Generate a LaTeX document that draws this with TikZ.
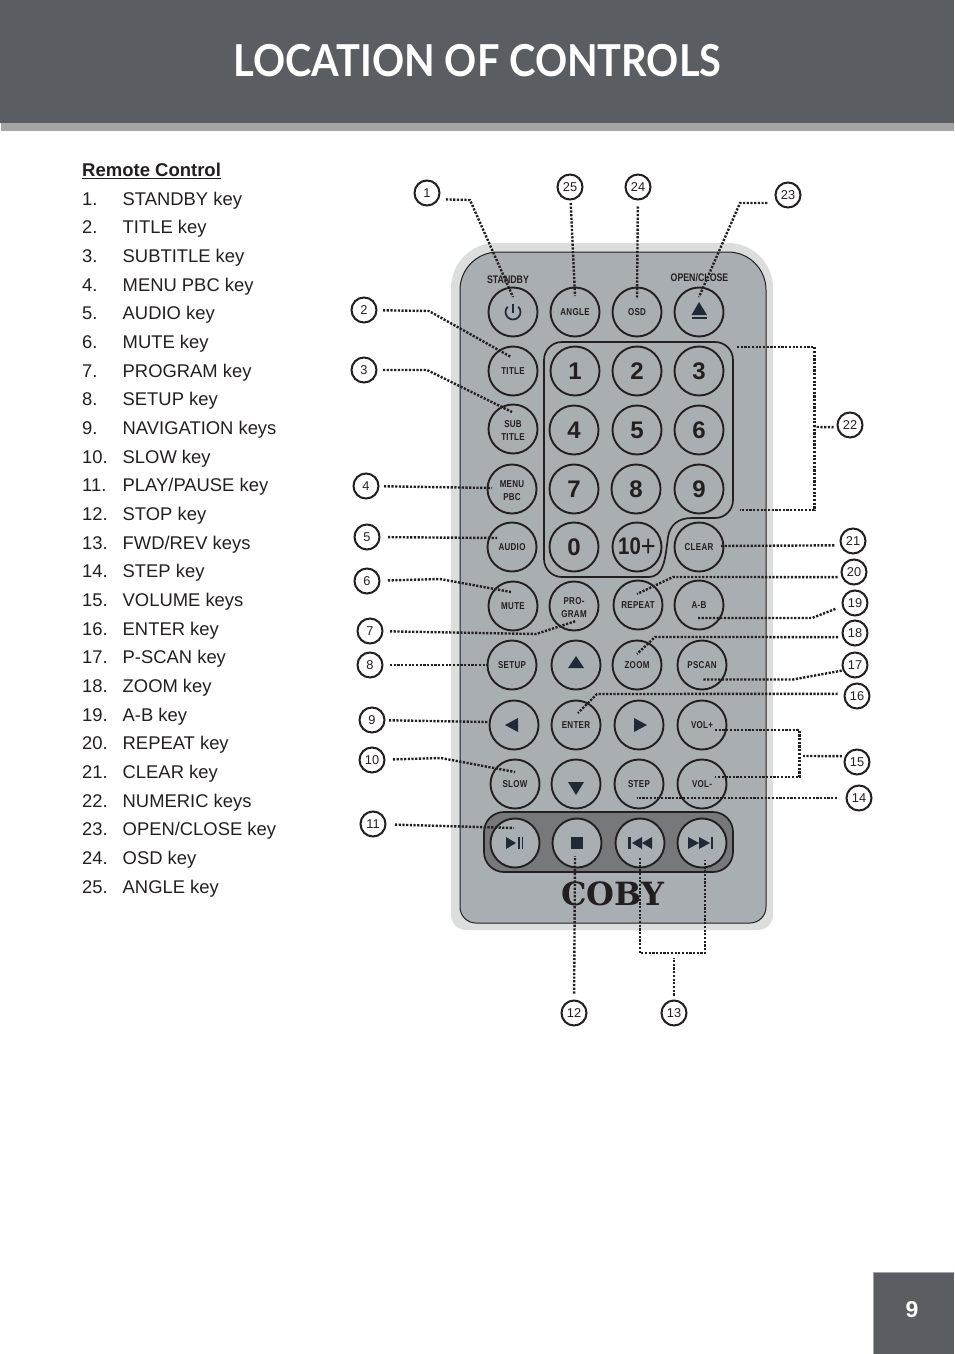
\documentclass[tikz,border=0pt]{standalone}
\usepackage{fontspec}
\usepackage{xcolor}
\setmainfont{Liberation Sans}
\newfontfamily\titlefont[FakeStretch=0.905]{Lato}
\newfontfamily\keyfont[FakeStretch=0.8,LetterSpace=3]{Liberation Sans}
\newfontfamily\labelfont[FakeStretch=0.8]{Liberation Sans}
\newfontfamily\tenfont[FakeStretch=0.85]{Liberation Sans}
\newfontfamily\logofont{DejaVu Serif}
\newcommand{\lowtext}{\rule{0pt}{10.5pt}}
\definecolor{headgray}{HTML}{5A5D62}
\definecolor{bandgray}{HTML}{A6A5A6}
\definecolor{casegray}{HTML}{DCDDDD}
\definecolor{bodygray}{HTML}{A9AEB2}
\definecolor{stripgray}{HTML}{76787B}
\definecolor{inkblack}{HTML}{231F20}
\definecolor{iconblue}{HTML}{1F2A36}
\begin{document}
\begin{tikzpicture}[x=1pt,y=-1pt,
    button/.style={circle,draw=inkblack,fill=bodygray,line width=1.9pt,minimum size=49pt,
      inner sep=0pt,outer sep=0pt,align=center,text=inkblack,font=\keyfont\bfseries\fontsize{10}{13}\selectfont},
    digit/.style={font=\bfseries\fontsize{24}{24}\selectfont},
    callout/.style={circle,draw=inkblack,fill=white,line width=2pt,minimum size=25pt,
      inner sep=0pt,outer sep=0pt,text=inkblack,font=\fontsize{12.8}{13}\selectfont},
    leader/.style={draw=inkblack,line width=2.4pt,dash pattern=on 2.2pt off 1.5pt},
    listitem/.style={anchor=base west,inner sep=0pt,text=inkblack,font=\fontsize{18.4}{20}\selectfont},
    toplabel/.style={inner sep=0pt,text=inkblack,font=\labelfont\bfseries\fontsize{11}{12}\selectfont},
    icon/.style={fill=iconblue}]
  \useasboundingbox (0,0) rectangle (954,1354);
  % page furniture
  \fill[bandgray] (1,123) rectangle (954,131);
  \fill[headgray] (0,0) rectangle (954,123);
  \node[text=white,inner sep=0pt,anchor=base,font=\titlefont\bfseries\fontsize{44}{46}\selectfont] (title) at (477.5,77) {LOCATION OF CONTROLS};
  \fill[bandgray] (872.5,1271.5) rectangle (954,1354);
  \fill[headgray] (874,1273) rectangle (954,1354);
  \node[text=white,font=\bfseries\fontsize{23}{24}\selectfont] (page) at (912,1310) {9};
  % list of keys
  \node[listitem,font=\bfseries\fontsize{18.5}{20}\selectfont] (head) at (82,176.5) {\underline{Remote Control}};
  \foreach \t [count=\i] in {STANDBY key,TITLE key,SUBTITLE key,MENU PBC key,AUDIO key,MUTE key,
      PROGRAM key,SETUP key,NAVIGATION keys,SLOW key,PLAY/PAUSE key,STOP key,FWD/REV keys,STEP key,
      VOLUME keys,ENTER key,P-SCAN key,ZOOM key,A-B key,REPEAT key,CLEAR key,NUMERIC keys,
      OPEN/CLOSE key,OSD key,ANGLE key}{
    \node[listitem] (num\i) at (82,205+\i*28.67-28.67) {\i.};
    \node[listitem] (item\i) at (122.5,205+\i*28.67-28.67) {\t};
  }
  % remote body
  \fill[casegray] (451,600) [rounded corners=45pt] -- (451,243) -- (773,243) -- (773,600)
    [rounded corners=15pt] -- (773,930) -- (451,930) -- cycle;
  \draw[inkblack,fill=bodygray,line width=1pt] (460,600) [rounded corners=38pt] -- (460,252) -- (766,252) -- (766,600)
    [rounded corners=16pt] -- (766,923) -- (460,923) -- cycle;
  \draw[inkblack,line width=1.7pt] (544,360) .. controls (544,350) and (552,342) .. (562,342) -- (715,342)
    .. controls (725,342) and (733,350) .. (733,360) -- (733,500) .. controls (733,510) and (725,518) .. (715,518)
    -- (692,518) .. controls (678,518) and (670,525) .. (668,537) .. controls (665,560) and (664,577) .. (648,577)
    -- (562,577) .. controls (552,577) and (544,569) .. (544,559) -- cycle;
  \draw[inkblack,fill=stripgray,line width=1.7pt,rounded corners=20pt] (484,812) rectangle (733,872);
  \node[toplabel] (standbytxt) at (508,280) {STANDBY};
  \node[toplabel] (opentxt) at (699.5,278) {OPEN/CLOSE};
  \node[inkblack,font=\logofont\bfseries\fontsize{32}{32}\selectfont,inner sep=0pt] (logo) at (612.5,894) {COBY};
  % keys
  \foreach \nm/\x/\y/\t in {kstandby/513/312/{},kangle/575/312/ANGLE,kosd/637/312/OSD,keject/699/312/{},
      ktitle/513/371/TITLE,ksub/513/429/{\lowtext SUB\\TITLE},kmenu/512/489/{\lowtext MENU\\PBC},kaudio/512/547/AUDIO,
      kclear/699/547/CLEAR,kmute/513/606/MUTE,kprog/574/606/{\lowtext PRO-\\GRAM},krepeat/638/605/REPEAT,kab/699/605/A-B,
      ksetup/512/665/SETUP,kup/576/665/{},kzoom/637/665/ZOOM,kpscan/702/665/PSCAN,
      kleft/514/725/{},kenter/576/725/ENTER,kright/639/725/{},kvolup/702/725/VOL+,
      kslow/515/784/SLOW,kdown/576/784/{},kstep/639/784/STEP,kvoldn/702/784/VOL-,
      kplay/515/843/{},kstop/577/843/{},kprev/640/843/{},knext/702/843/{}}
    \node[button] (\nm) at (\x,\y) {\t};
  \foreach \t/\x/\y in {1/575/371,2/637/371,3/699/371,4/574/430,5/637/430,6/699/430,
      7/574/489,8/636/489,9/699/489,0/574/547}
    \node[button,digit] (d\t) at (\x,\y) {\t};
  \node[button] (dten) at (637,547) {\tenfont\bfseries\fontsize{24}{24}\selectfont 10\mdseries\fontsize{30}{24}\selectfont\raisebox{-2.5pt}{+}};
  % key symbols
  \draw[iconblue,line width=1.7pt] (518.3,306.7) arc[start angle=-45,end angle=225,radius=7.5];
  \draw[iconblue,line width=1.7pt] (513,303.5) -- (513,313);
  \fill[icon] (699,302) -- (707,315) -- (691.5,315) -- cycle;
  \fill[icon] (692,317.2) rectangle (707,318.8);
  \fill[icon] (576,656) -- (584,668) -- (568,668) -- cycle;
  \fill[icon] (568,782) -- (584,782) -- (576,795) -- cycle;
  \fill[icon] (505,725) -- (518,718) -- (518,732) -- cycle;
  \fill[icon] (647,725) -- (634,718) -- (634,732) -- cycle;
  \fill[icon] (506,837) -- (516,843) -- (506,849) -- cycle;
  \fill[icon] (518,837) rectangle (519.5,849);
  \fill[icon] (521.5,837) rectangle (523,849);
  \fill[icon] (571,837) rectangle (583,849);
  \fill[icon] (628,837) rectangle (631,849);
  \fill[icon] (632,843) -- (642,837) -- (642,849) -- cycle;
  \fill[icon] (642,843) -- (652,837) -- (652,849) -- cycle;
  \fill[icon] (699,843) -- (688,837) -- (688,849) -- cycle;
  \fill[icon] (710,843) -- (699,837) -- (699,849) -- cycle;
  \fill[icon] (710.5,837) rectangle (713,849);
  % numbered callouts
  \foreach \i/\x/\y in {1/427/193,2/364/310,3/364/370,4/366/486,5/367/537,6/367/581,7/370/631,8/370/665,
      9/372/720,10/372/760,11/373/824,12/574/1013,13/674/1013,14/859/798,15/857/762,16/857/696,
      17/855/665,18/855/633,19/855/603,20/854/572,21/853/541,22/850/425,23/788/195,24/638/187,25/570/187}
    \node[callout] (n\i) at (\x,\y) {\i};
  % leader points
  \foreach \nm/\x/\y in {b1/470/200,t1/513/297,b2/429/311,t2/511/357,b3/427/370,t3/512/412,t4/492/488,
      t5/497/538,b6/440/579,t6/511/592,b7/536/634,t7/576/621,t8/488/665,t9/488/722,b10/441/758,t10/515/772,
      t11/514/828,t12/575/856,c13/674/958,p13a/640/858,p13b/640/953,p13c/705/953,p13d/705/860,
      t14/637/798,c15/803/756,p15a/715/730,p15b/799.5/730,p15c/799.5/777,p15d/715/777,
      b16/597/694,t16/578/713,b17/793/679.5,t17/703/679.5,b18/655/637,t18/637/654,b19/812/618,t19/698/618,
      b20/673/577,t20/637/594,t21/720/546,c22/814.5/427,p22a/737/347,p22b/814.5/347,p22c/814.5/510,p22d/740/510,
      b23/740/203,t23/699/297,t24/637/299,t25/575/296}
    \coordinate (\nm) at (\x,\y);
  % leaders
  \draw[leader,shorten <=8pt] (n1.-30) -- (b1) -- (t1);
  \draw[leader,shorten <=6.5pt] (n2) -- (b2) -- (t2);
  \draw[leader,shorten <=6.5pt] (n3) -- (b3) -- (t3);
  \draw[leader,shorten <=5.5pt] (n4) -- (t4);
  \draw[leader,shorten <=8.5pt] (n5) -- (t5);
  \draw[leader,shorten <=8.5pt] (n6) -- (b6) -- (t6);
  \draw[leader,shorten <=7.5pt] (n7) -- (b7) -- (t7);
  \draw[leader,shorten <=7.5pt] (n8) -- (t8);
  \draw[leader,shorten <=4.5pt] (n9) -- (t9);
  \draw[leader,shorten <=8.5pt] (n10) -- (b10) -- (t10);
  \draw[leader,shorten <=9.5pt] (n11) -- (t11);
  \draw[leader,shorten <=7pt] (n12) -- (t12);
  \draw[leader,shorten <=5pt] (n13) -- (c13);
  \draw[leader] (p13a) -- (p13b) -- (p13c) -- (p13d);
  \draw[leader,shorten <=9.5pt] (n14) -- (t14);
  \draw[leader,shorten <=4pt] (n15.152) -- (c15);
  \draw[leader] (p15a) -- (p15b) -- (p15c) -- (p15d);
  \draw[leader,shorten <=7pt] (n16.170) -- (b16) -- (t16);
  \draw[leader,shorten <=2pt] (n17.205) -- (b17) -- (t17);
  \draw[leader,shorten <=5pt] (n18.199) -- (b18) -- (t18);
  \draw[leader,shorten <=8pt] (n19.194) -- (b19) -- (t19);
  \draw[leader,shorten <=5pt] (n20.204) -- (b20) -- (t20);
  \draw[leader,shorten <=7pt] (n21.200) -- (t21);
  \draw[leader,shorten <=4pt] (n22.190) -- (c22);
  \draw[leader] (p22a) -- (p22b) -- (p22c) -- (p22d);
  \draw[leader,shorten <=11pt] (n23.220) -- (b23) -- (t23);
  \draw[leader,shorten <=7pt] (n24) -- (t24);
  \draw[leader,shorten <=3.5pt] (n25) -- (t25);
\end{tikzpicture}
\end{document}
